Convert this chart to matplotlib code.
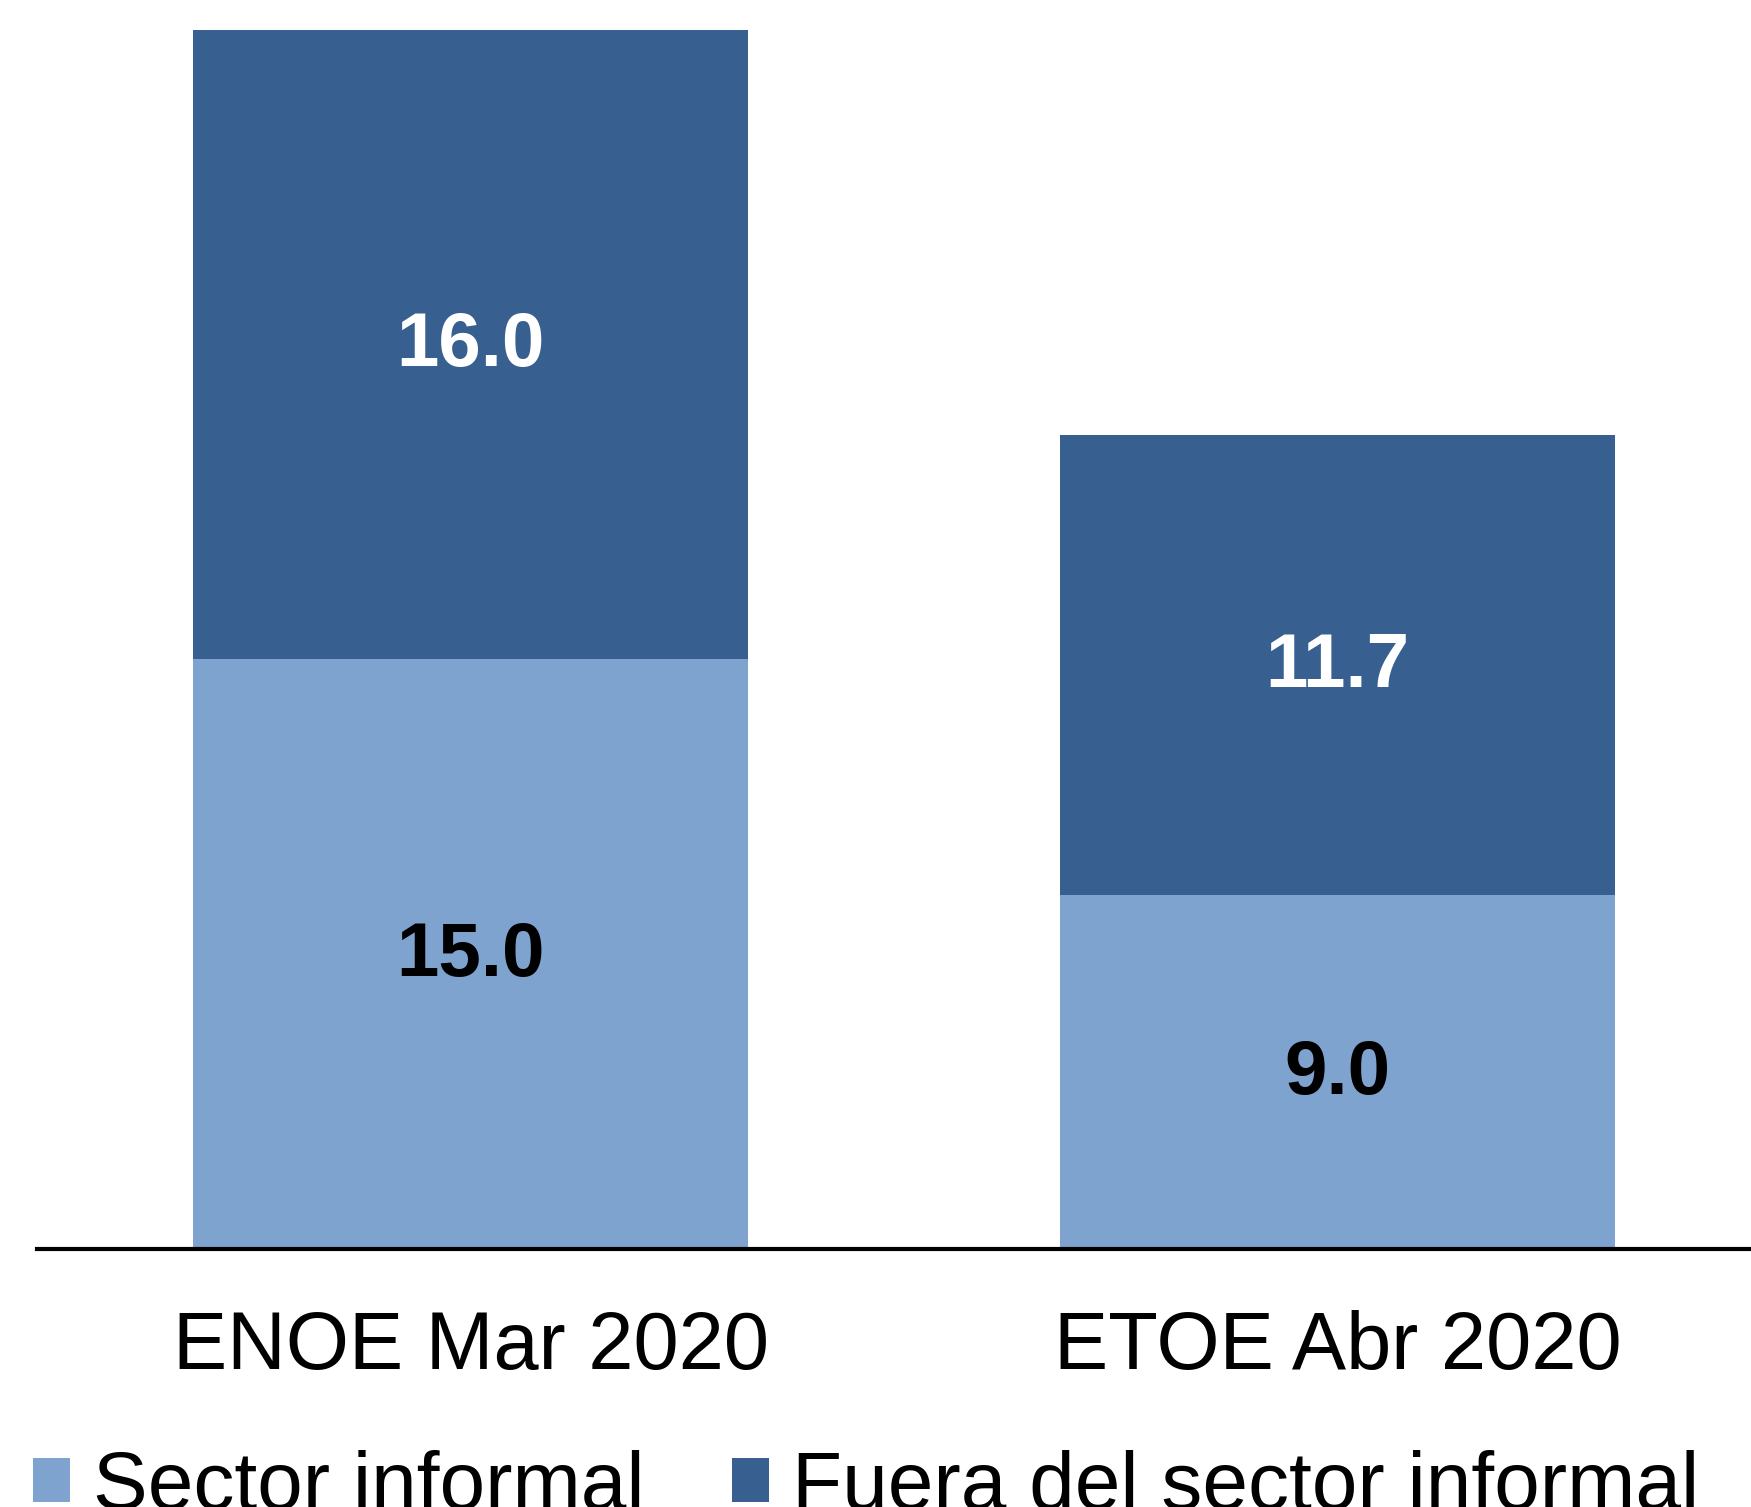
import matplotlib
matplotlib.use("Agg")
import matplotlib.pyplot as plt
from matplotlib.patches import Patch

plt.rcParams['font.family'] = ['Liberation Sans', 'DejaVu Sans']

# ---------- Data ----------
categories = ["ENOE Mar 2020", "ETOE Abr 2020"]
sector_informal = [15.0, 9.0]
fuera_sector = [16.0, 11.7]
series_names = ["Sector informal", "Fuera del sector informal"]

LIGHT = "#7FA3CF"
DARK = "#375F90"

W, H = 1751, 1507
AX_Y = 1249  # pixel row of the baseline
fig = plt.figure(figsize=(W / 100, H / 100), dpi=100)
ax = fig.add_axes([37 / W, (H - AX_Y) / H, (1771 - 37) / W, AX_Y / H])

x = list(range(len(categories)))
bw = 0.64
ax.bar(x, sector_informal, width=bw, color=LIGHT)
ax.bar(x, fuera_sector, width=bw, bottom=sector_informal, color=DARK)

# value labels, centred in each segment
for i in x:
    ax.annotate(f"{sector_informal[i]:.1f}", (i, sector_informal[i] / 2),
                xytext=(0, 4), textcoords="offset points",
                ha="center", va="center_baseline", fontsize=55, fontweight="bold", color="black")
    ax.annotate(f"{fuera_sector[i]:.1f}", (i, sector_informal[i] + fuera_sector[i] / 2),
                xytext=(0, 4), textcoords="offset points",
                ha="center", va="center_baseline", fontsize=55, fontweight="bold", color="white")

ax.set_xlim(-0.5, 1.5)
ax.set_ylim(0, AX_Y / 39.33)
ax.set_xticks(x)
ax.set_xticklabels(categories, fontsize=58.5)
ax.tick_params(axis="x", length=0, pad=44)
ax.set_yticks([])
for s in ["top", "right", "left"]:
    ax.spines[s].set_visible(False)
ax.spines["bottom"].set_linewidth(3)
ax.spines["bottom"].set_color("black")

handles = [Patch(facecolor=LIGHT), Patch(facecolor=DARK)]
fig.legend(handles, series_names, loc="center left",
           bbox_to_anchor=(33 / W, 1 - 1488 / H), ncol=2, frameon=False,
           fontsize=59, handlelength=0.45, handleheight=0.45,
           handletextpad=0.28, columnspacing=1.07, borderpad=0, borderaxespad=0)

fig.savefig("out.png", dpi=100)
